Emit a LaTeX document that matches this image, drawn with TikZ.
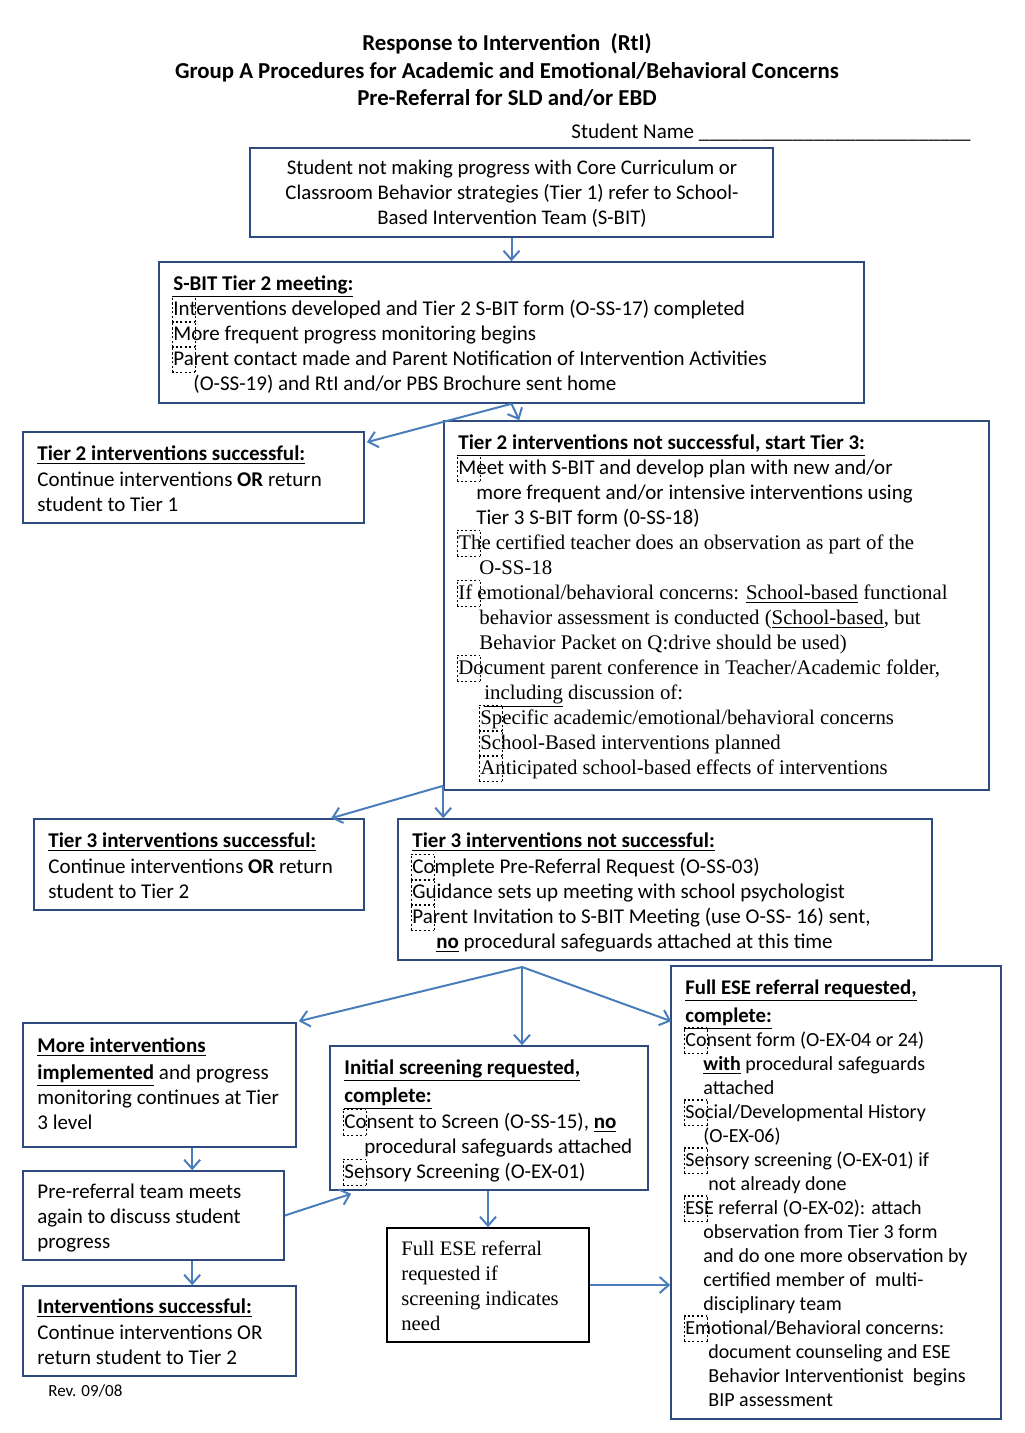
\documentclass[tikz,border=0pt]{standalone}
\usepackage{fontspec}
\setmainfont{Carlito}
\newfontfamily\serif{Liberation Serif}
\usetikzlibrary{arrows.meta,calc,fit}
\definecolor{boxblue}{HTML}{2E4A7E}
\definecolor{arrblue}{HTML}{4A7EBB}
\newcommand\cbx{{\setlength\unitlength{1pt}\linethickness{0.7pt}\begin{picture}(0,0)\put(-0.5,-3.4){\dashbox{1.1}(11.5,12.8){}}\end{picture}}}
\newcommand\bodyf{\fontsize{10.5}{12.5}\selectfont}
\newcommand\serf{\serif\fontsize{10.4}{12.5}\selectfont}
\newcommand\hd[1]{\underline{\textbf{#1}}}
\newcommand\ind[1]{\hspace*{#1pt}}
\tikzset{
  box/.style={draw=boxblue, line width=0.8pt, inner sep=0pt},
  sbox/.style={draw=black, line width=0.8pt, inner sep=0pt},
  txt/.style={anchor=north west, inner sep=0pt, align=left, font=\bodyf},
  arr/.style={draw=arrblue, line width=1pt, -{Straight Barb[length=4.5pt,width=8pt]}}
}
\begin{document}
\begin{tikzpicture}[x=0.5pt,y=-0.5pt]
\useasboundingbox (0,0) rectangle (1024,1433);
% title
\node[anchor=north, inner sep=0pt, align=center, font=\fontsize{11.4}{13.75}\selectfont\bfseries] (title) at (507,31)
 {\strut Response to Intervention\ \ (RtI)\\Group A Procedures for Academic and Emotional/Behavioral Concerns\\Pre-Referral for SLD and/or EBD};
\node[anchor=base west, inner sep=0pt, font=\bodyf] (sname) at (571,139) {Student Name \_\_\_\_\_\_\_\_\_\_\_\_\_\_\_\_\_\_\_\_\_\_\_\_\_\_};
% boxes
\node[box, fit={(250,148) (773,237)}] (b1) {};
\node[anchor=north, inner sep=0pt, align=center, font=\fontsize{10.4}{12.5}\selectfont] (b1t) at (512,156.5)
 {\strut Student not making progress with Core Curriculum or\\Classroom Behavior strategies (Tier 1) refer to School-\\Based Intervention Team (S-BIT)};

\node[box, fit={(159,262) (864,403)}] (b2) {};
\node[txt] (b2t) at (173,272.5)
 {\strut\hd{S-BIT Tier 2 meeting:}\\
  \cbx Interventions developed and Tier 2 S-BIT form (O-SS-17) completed\\
  \cbx More frequent progress monitoring begins\\
  \cbx Parent contact made and Parent Notification of Intervention Activities\\
  \ind{10}(O-SS-19) and RtI and/or PBS Brochure sent home};

\node[box, fit={(23,432) (364,523)}] (b3) {};
\node[txt] (b3t) at (37,442.5)
 {\strut\hd{Tier 2 interventions successful:}\\[0.5pt]
  Continue interventions \textbf{OR} return\\
  student to Tier 1};

\node[box, fit={(444,421) (989,790)}] (b4) {};
\node[txt] (b4t) at (458,431.5)
 {\strut\hd{Tier 2 interventions not successful, start Tier 3:}\\
  \cbx Meet with S-BIT and develop plan with new and/or\\
  \ind{9}more frequent and/or intensive interventions using\\
  \ind{9}Tier 3 S-BIT form (0-SS-18)\\
  {\serf\cbx The certified teacher does an observation as part of the}\\
  {\serf\ind{10.5}O-SS-18}\\
  {\serf\cbx If emotional/behavioral concerns: \underline{School-based} functional}\\
  {\serf\ind{10.5}behavior assessment is conducted (\underline{School-based}, but}\\
  {\serf\ind{10.5}Behavior Packet on Q:drive should be used)}\\
  {\serf\cbx Document parent conference in Teacher/Academic folder,}\\
  {\serf\ind{13}\underline{including} discussion of:}\\
  {\serf\ind{11}\cbx Specific academic/emotional/behavioral concerns}\\
  {\serf\ind{11}\cbx School-Based interventions planned}\\
  {\serf\ind{11}\cbx Anticipated school-based effects of interventions}};

\node[box, fit={(34,819) (364,910)}] (b5) {};
\node[txt] (b5t) at (48,829.5)
 {\strut\hd{Tier 3 interventions successful:}\\[0.5pt]
  Continue interventions \textbf{OR} return\\
  student to Tier 2};

\node[box, fit={(398,819) (932,960)}] (b6) {};
\node[txt] (b6t) at (412,829.5)
 {\strut\hd{Tier 3 interventions not successful:}\\[0.5pt]
  \cbx Complete Pre-Referral Request (O-SS-03)\\
  \cbx Guidance sets up meeting with school psychologist\\
  \cbx Parent Invitation to S-BIT Meeting (use O-SS- 16) sent,\\
  \ind{12}\hd{no} procedural safeguards attached at this time};

\node[box, fit={(23,1023) (296,1147)}] (b7) {};
\node[txt] (b7t) at (37,1034.5)
 {\strut\hd{More interventions}\\[1pt]
  \hd{implemented} and progress\\
  monitoring continues at Tier\\
  3 level};

\node[box, fit={(330,1046) (648,1190)}] (b8) {};
\node[txt] (b8t) at (344,1056.5)
 {\strut\hd{Initial screening requested,}\\[1.5pt]
  \hd{complete:}\\[0.5pt]
  \cbx Consent to Screen (O-SS-15), \hd{no}\\
  \ind{10}procedural safeguards attached\\
  \cbx Sensory Screening (O-EX-01)};

\node[box, fit={(671,966) (1001,1419)}] (b9) {};
\node[txt, font=\fontsize{10}{12}\selectfont] (b9t) at (685,977.5)
 {\strut\hd{\fontsize{10.4}{12}\selectfont Full ESE referral requested,}\\[2pt]
  \hd{\fontsize{10.4}{12}\selectfont complete:}\\
  \cbx Consent form (O-EX-04 or 24)\\
  \ind{9}\hd{with} procedural safeguards\\
  \ind{9}attached\\
  \cbx Social/Developmental History\\
  \ind{9}(O-EX-06)\\
  \cbx Sensory screening (O-EX-01) if\\
  \ind{11.5}not already done\\
  \cbx ESE referral (O-EX-02): attach\\
  \ind{9}observation from Tier 3 form\\
  \ind{9}and do one more observation by\\
  \ind{9}certified member of\ \ multi-\\
  \ind{9}disciplinary team\\
  \cbx Emotional/Behavioral concerns:\\
  \ind{11.5}document counseling and ESE\\
  \ind{11.5}Behavior Interventionist\ \ begins\\
  \ind{11.5}BIP assessment};

\node[box, fit={(23,1171) (284,1260)}] (b10) {};
\node[txt] (b10t) at (37,1180.5)
 {\strut Pre-referral team meets\\
  again to discuss student\\
  progress};

\node[box, fit={(23,1286) (296,1376)}] (b11) {};
\node[txt] (b11t) at (37,1295.5)
 {\strut\hd{Interventions successful:}\\[0.5pt]
  Continue interventions OR\\
  return student to Tier 2};

\node[sbox, fit={(387,1228) (589,1342)}] (b12) {};
\node[txt, font=\serif\fontsize{10.3}{12.5}\selectfont] (b12t) at (401,1237.5)
 {\strut Full ESE referral\\
  requested if\\
  screening indicates\\
  need};

\node[anchor=base west, inner sep=0pt, font=\fontsize{8.5}{10}\selectfont] (rev) at (48,1396) {Rev. 09/08};

% connectors
\coordinate (fan) at (522,967);
\coordinate (t2split) at ($(b4.south west)+(0,-5)$);
\draw[arr] (b1.south) -- (b2.north);
\draw[arr] (b2.south) -- ($(b3.north east)+(2,11)$);
\draw[arr] (b2.south) -- ($(b4.north west)+(76,0)$);
\draw[arr] (t2split) -- ($(b5.north west)+(298,0)$);
\draw[arr] (t2split) -- (t2split |- b6.north);
\draw[arr] (fan) -- ($(b7.north east)+(2,-1)$);
\draw[arr] (fan) -- (fan |- b8.north);
\draw[arr] (fan) -- ($(b9.north west)+(1,56)$);
\draw[arr] ($(b7.south west)+(170,0)$) -- ($(b10.north west)+(170,0)$);
\draw[arr] ($(b10.south west)+(170,0)$) -- ($(b11.north west)+(170,0)$);
\draw[arr] (b10.east) -- ($(b8.south west)+(22,3)$);
\draw[arr] (b12.north |- b8.south) -- (b12.north);
\draw[arr] (b12.east) -- (b12.east -| b9.west);
\end{tikzpicture}
\end{document}
